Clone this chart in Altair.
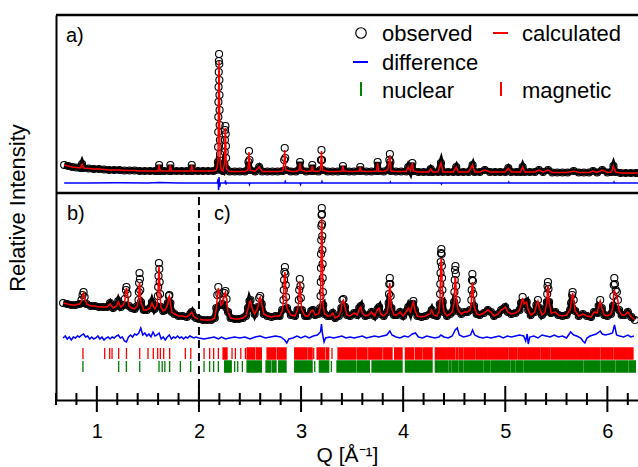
import altair as alt
import pandas as pd

FONT = "Liberation Sans"

# ---------------- data ----------------
# panel a): (Q, observed, calculated), relative intensity
top_profile = [
    (0.68, 27, 27), (0.72, 26, 26), (0.76, 25, 25), (0.80, 24.5, 24.5), (0.84, 24, 24),
    (0.855, 28, 28), (0.87, 24, 24), (0.92, 23.5, 23.5), (0.97, 23, 23), (1.02, 23, 23),
    (1.07, 22.5, 22.5), (1.12, 22, 22), (1.17, 22, 22), (1.22, 22, 22), (1.27, 21.5, 21.5),
    (1.32, 21.5, 21.5), (1.37, 21.5, 21.5), (1.42, 21, 21), (1.47, 21, 21), (1.52, 21, 21),
    (1.57, 21, 21), (1.60, 21, 21), (1.61, 27, 27), (1.62, 21, 21), (1.66, 21, 21),
    (1.71, 21, 21), (1.72, 27, 27), (1.73, 21, 21), (1.78, 21, 21), (1.83, 21, 21),
    (1.88, 21, 21), (1.92, 21, 21), (1.93, 27, 27), (1.94, 21, 21), (1.99, 21, 21),
    (2.04, 21, 21), (2.09, 21, 21), (2.14, 21, 21), (2.17, 22, 22),
    (2.186, 30, 29), (2.188, 45, 43), (2.189, 60, 57), (2.190, 75, 71), (2.191, 90, 86),
    (2.192, 105, 100), (2.194, 120, 114), (2.195, 131, 125), (2.197, 138, 131),
    (2.199, 128, 122), (2.200, 112, 107), (2.201, 97, 93), (2.202, 82, 79), (2.203, 67, 64),
    (2.205, 52, 50), (2.207, 38, 37), (2.211, 26, 26), (2.22, 22, 22), (2.235, 21, 21),
    (2.249, 28, 28), (2.252, 40, 39), (2.254, 52, 50), (2.256, 62, 60), (2.259, 66, 64),
    (2.262, 58, 56), (2.264, 46, 45), (2.266, 34, 33), (2.27, 23, 23),
    (2.30, 20.5, 20.5), (2.35, 20.5, 20.5), (2.40, 20.5, 20.5), (2.45, 20.5, 20.5),
    (2.48, 22, 22), (2.485, 30, 30), (2.49, 41, 40), (2.495, 32, 32), (2.50, 22, 22),
    (2.55, 20.5, 20.5), (2.59, 25, 25), (2.62, 20.5, 20.5), (2.67, 20.5, 20.5),
    (2.72, 20.5, 20.5), (2.77, 20.5, 20.5), (2.82, 21, 21),
    (2.835, 32, 31), (2.84, 44, 42), (2.845, 34, 33), (2.85, 22, 22),
    (2.90, 20.5, 20.5), (2.95, 20.5, 20.5), (2.98, 22, 22), (2.99, 30, 29), (3.00, 22, 22),
    (3.05, 20.5, 20.5), (3.10, 21, 21), (3.11, 27, 26), (3.12, 21, 21), (3.17, 20.5, 20.5),
    (3.19, 22, 22), (3.195, 32, 32), (3.20, 42, 41), (3.205, 32, 32), (3.21, 22, 22),
    (3.26, 20.5, 20.5), (3.31, 20.5, 20.5), (3.36, 20.5, 20.5), (3.40, 21, 21),
    (3.41, 26, 26), (3.42, 21, 21), (3.47, 20.5, 20.5), (3.52, 20.5, 20.5), (3.57, 21, 21),
    (3.58, 25, 25), (3.59, 21, 21), (3.64, 20.5, 20.5), (3.69, 20.5, 20.5), (3.74, 21, 21),
    (3.75, 30, 29), (3.76, 21, 21), (3.81, 20.5, 20.5), (3.85, 22, 22),
    (3.865, 32, 31), (3.87, 38, 37), (3.875, 30, 30), (3.88, 21, 21),
    (3.93, 20.5, 20.5), (3.98, 20.5, 20.5), (4.03, 20.5, 20.5), (4.05, 25, 25),
    (4.07, 21, 21), (4.09, 29, 29), (4.10, 21, 21), (4.15, 20, 20), (4.20, 20, 20),
    (4.25, 20, 20), (4.27, 23, 23), (4.29, 20, 20), (4.34, 20, 20), (4.37, 29, 29),
    (4.39, 20, 20), (4.44, 20, 20), (4.49, 20, 20), (4.52, 25, 25), (4.54, 20, 20),
    (4.59, 20, 20), (4.64, 20, 20), (4.68, 27, 27), (4.70, 20, 20), (4.75, 20, 20),
    (4.80, 22, 22), (4.85, 20, 20), (4.90, 20, 20), (4.95, 20, 20), (5.00, 20, 20),
    (5.03, 24, 24), (5.06, 20, 20), (5.11, 20, 20), (5.15, 20, 20), (5.17, 25, 25),
    (5.19, 20, 20), (5.24, 20, 20), (5.29, 20, 20), (5.33, 22, 22), (5.37, 20, 20),
    (5.42, 22, 22), (5.46, 19.5, 19.5), (5.51, 19.5, 19.5), (5.56, 19.5, 19.5),
    (5.61, 19.5, 19.5), (5.67, 21, 21), (5.72, 19.5, 19.5), (5.77, 19.5, 19.5),
    (5.82, 19.5, 19.5), (5.86, 21, 21), (5.90, 19.5, 19.5), (5.95, 22, 22),
    (6.00, 19.5, 19.5), (6.04, 20, 20), (6.06, 26, 26), (6.08, 20, 20), (6.13, 19, 19),
    (6.18, 19, 19), (6.23, 19, 19), (6.28, 19, 19), (6.30, 19, 19),
]

# panel a): difference curve (Q, obs - calc)
top_diff = [
    (0.68, 0), (0.90, 0), (1.20, 0.3), (1.50, 0), (1.61, 0.5), (1.80, 0), (2.10, 0),
    (2.18, 0), (2.188, 4), (2.192, -7), (2.197, 6), (2.202, -4), (2.21, 0), (2.255, 0),
    (2.26, 2.5), (2.265, -1.5), (2.27, 0), (2.49, 0), (2.495, -1.5), (2.50, 0), (2.84, 0),
    (2.845, 1.5), (2.85, 0), (2.99, 0), (2.995, -1.5), (3.00, 0), (3.20, 0), (3.205, 1.5),
    (3.21, 0), (3.87, 0), (3.875, 1), (3.88, 0), (4.37, 0), (4.375, -1), (4.38, 0),
    (5.03, 0), (5.035, 1), (5.04, 0), (6.06, 0), (6.065, 1), (6.07, 0), (6.30, 0),
]

# panels b) and c): (Q, observed, calculated)
bottom_profile = [
    (0.67, 97, 97), (0.71, 96, 96), (0.75, 95, 95), (0.79, 95, 95), (0.83, 96, 96),
    (0.85, 100, 99), (0.86, 105, 104), (0.87, 108, 107), (0.88, 103, 102), (0.90, 96, 96),
    (0.94, 94, 94), (0.98, 94, 94), (1.02, 93, 93), (1.06, 93, 93), (1.10, 93, 93),
    (1.13, 97, 96), (1.16, 92, 92), (1.19, 94, 94), (1.21, 99, 98), (1.235, 93, 93),
    (1.26, 95, 95), (1.275, 101, 100), (1.285, 110, 109), (1.29, 113, 112),
    (1.30, 106, 106), (1.315, 94, 94), (1.34, 92, 92), (1.37, 91, 91), (1.395, 94, 94),
    (1.408, 100, 100), (1.411, 108, 106), (1.414, 117, 113), (1.418, 127, 118),
    (1.422, 121, 114), (1.425, 110, 107), (1.432, 98, 98), (1.46, 90, 90), (1.49, 90, 90),
    (1.52, 92, 92), (1.54, 98, 97), (1.565, 91, 91), (1.585, 94, 94),
    (1.598, 104, 103), (1.601, 113, 112), (1.604, 124, 123), (1.608, 137, 134),
    (1.612, 131, 129), (1.615, 118, 117), (1.619, 106, 105), (1.628, 93, 93),
    (1.65, 89, 89), (1.67, 90, 90), (1.695, 97, 96), (1.705, 104, 103), (1.71, 105, 104),
    (1.72, 97, 97), (1.735, 88, 88), (1.76, 86, 86), (1.80, 84, 84), (1.84, 84, 84),
    (1.88, 83, 83), (1.915, 86, 86), (1.93, 88, 88), (1.945, 84, 84), (1.97, 82, 82),
    (2.00, 81, 81), (2.04, 80, 80), (2.08, 80, 80), (2.12, 80, 80), (2.155, 82, 82),
    (2.17, 92, 91), (2.18, 105, 104), (2.19, 113, 112), (2.20, 106, 106),
    (2.215, 95, 95), (2.23, 96, 96), (2.24, 100, 100), (2.25, 107, 106), (2.26, 109, 108),
    (2.27, 101, 101), (2.285, 88, 88), (2.31, 82, 82), (2.35, 81, 81), (2.39, 81, 81),
    (2.43, 82, 82), (2.46, 84, 84), (2.48, 92, 91), (2.495, 99, 98), (2.505, 100, 99),
    (2.52, 92, 92), (2.545, 86, 86), (2.575, 93, 92), (2.59, 102, 101), (2.60, 104, 103),
    (2.615, 96, 96), (2.635, 86, 86), (2.67, 84, 84), (2.71, 83, 83), (2.75, 84, 84),
    (2.79, 84, 84), (2.815, 90, 89), (2.828, 100, 99), (2.831, 110, 108),
    (2.834, 120, 117), (2.837, 128, 124), (2.842, 133, 128), (2.847, 126, 122),
    (2.850, 115, 113), (2.853, 103, 102), (2.862, 92, 92), (2.90, 85, 85), (2.94, 84, 84),
    (2.965, 90, 90), (2.978, 100, 99), (2.982, 110, 109), (2.988, 121, 119),
    (2.994, 114, 112), (2.998, 102, 101), (3.008, 90, 90), (3.04, 84, 84), (3.07, 84, 84),
    (3.10, 89, 89), (3.115, 90, 90), (3.14, 85, 85), (3.17, 86, 86),
    (3.188, 92, 92), (3.191, 104, 103), (3.193, 118, 116), (3.195, 132, 129),
    (3.196, 146, 142), (3.198, 160, 155), (3.199, 174, 168), (3.201, 185, 177),
    (3.203, 192, 182), (3.205, 186, 177), (3.206, 176, 169), (3.208, 164, 157),
    (3.209, 150, 145), (3.211, 136, 132), (3.212, 122, 119), (3.214, 108, 106),
    (3.217, 95, 95), (3.23, 86, 86), (3.26, 84, 84), (3.285, 84, 84), (3.31, 87, 87),
    (3.335, 82, 82), (3.37, 84, 84), (3.395, 92, 91), (3.405, 100, 99), (3.415, 101, 100),
    (3.43, 93, 93), (3.45, 85, 85), (3.48, 84, 84), (3.52, 87, 87), (3.55, 85, 85),
    (3.57, 92, 91), (3.585, 94, 93), (3.60, 87, 87), (3.63, 84, 84), (3.66, 85, 85),
    (3.69, 88, 88), (3.72, 84, 84), (3.75, 91, 91), (3.765, 93, 92), (3.78, 86, 86),
    (3.81, 84, 84), (3.845, 88, 88), (3.858, 97, 96), (3.861, 106, 104),
    (3.864, 116, 112), (3.869, 122, 117), (3.874, 116, 112), (3.877, 104, 103),
    (3.885, 92, 92), (3.91, 85, 85), (3.94, 85, 85), (3.97, 88, 88), (4.00, 84, 84),
    (4.035, 89, 89), (4.05, 93, 92), (4.07, 88, 88), (4.09, 96, 95), (4.10, 99, 98),
    (4.115, 90, 90), (4.14, 84, 84), (4.18, 83, 83), (4.22, 84, 84), (4.26, 86, 86),
    (4.28, 90, 90), (4.30, 85, 85), (4.33, 84, 84), (4.35, 88, 88),
    (4.359, 96, 96), (4.362, 106, 105), (4.364, 116, 114), (4.366, 127, 124),
    (4.368, 138, 133), (4.371, 147, 140), (4.374, 151, 142), (4.377, 146, 137),
    (4.379, 134, 129), (4.381, 122, 118), (4.384, 110, 108), (4.388, 98, 98),
    (4.40, 88, 88), (4.43, 84, 84), (4.46, 86, 86), (4.48, 88, 88),
    (4.499, 98, 97), (4.502, 108, 105), (4.505, 120, 114), (4.508, 130, 121),
    (4.512, 134, 123), (4.516, 126, 118), (4.519, 114, 110), (4.524, 100, 99),
    (4.54, 89, 89), (4.57, 86, 86), (4.60, 88, 88), (4.63, 88, 88), (4.655, 90, 90),
    (4.668, 100, 99), (4.671, 110, 107), (4.674, 120, 114), (4.678, 126, 118),
    (4.683, 119, 114), (4.687, 106, 104), (4.694, 94, 94), (4.72, 86, 86), (4.75, 85, 85),
    (4.79, 87, 87), (4.83, 90, 90), (4.86, 88, 88), (4.89, 84, 84), (4.93, 86, 86),
    (4.96, 90, 90), (4.98, 91, 91), (5.00, 93, 93), (5.025, 88, 88), (5.06, 86, 86),
    (5.10, 87, 87), (5.14, 90, 90), (5.155, 97, 96), (5.17, 103, 102), (5.185, 96, 96),
    (5.20, 97, 97), (5.21, 98, 98), (5.225, 90, 90), (5.25, 85, 85), (5.29, 88, 88),
    (5.305, 95, 95), (5.32, 100, 99), (5.335, 92, 92), (5.36, 85, 85), (5.39, 88, 88),
    (5.408, 98, 98), (5.411, 106, 105), (5.414, 114, 112), (5.418, 118, 115),
    (5.423, 111, 109), (5.429, 98, 98), (5.45, 87, 87), (5.49, 88, 88), (5.52, 85, 85),
    (5.56, 84, 84), (5.60, 85, 85), (5.635, 90, 90), (5.645, 97, 97), (5.655, 105, 104),
    (5.66, 108, 107), (5.67, 100, 100), (5.685, 89, 89), (5.72, 84, 84), (5.76, 86, 86),
    (5.80, 84, 84), (5.84, 83, 83), (5.87, 88, 88), (5.90, 87, 87), (5.915, 94, 94),
    (5.93, 100, 99), (5.945, 92, 92), (5.97, 85, 85), (6.00, 84, 84), (6.035, 86, 86),
    (6.055, 94, 93), (6.059, 104, 101), (6.063, 115, 107), (6.068, 122, 110),
    (6.074, 116, 108), (6.082, 110, 106), (6.093, 108, 104), (6.103, 100, 99),
    (6.115, 90, 90), (6.14, 85, 85), (6.17, 85, 85), (6.20, 88, 88), (6.235, 83, 83),
    (6.27, 80, 80),
]

# panels b) and c): difference curve (Q, obs - calc)
bottom_diff = [
    (0.67, 0), (0.69, 2), (0.71, -1), (0.73, 1), (0.75, -2), (0.77, 1), (0.79, 0),
    (0.81, 2), (0.83, 1), (0.85, 3), (0.87, 4), (0.89, 1), (0.91, 2), (0.93, -1),
    (0.95, 1), (0.97, -1), (0.99, 0), (1.01, 2), (1.03, -1), (1.05, 1), (1.07, -2),
    (1.09, 0), (1.11, 1), (1.13, -1), (1.15, 1), (1.17, 0), (1.19, 2), (1.21, 3),
    (1.23, 0), (1.25, 1), (1.27, -3), (1.29, -4), (1.31, 1), (1.33, 3), (1.35, 1),
    (1.37, 4), (1.39, 3), (1.41, 5), (1.43, 10), (1.45, 3), (1.47, 5), (1.49, 2),
    (1.51, 4), (1.53, 1), (1.55, 6), (1.57, 2), (1.59, 3), (1.61, 5), (1.63, -1),
    (1.65, 1), (1.67, -2), (1.69, 1), (1.71, 3), (1.73, -1), (1.75, 1), (1.77, 0),
    (1.79, 2), (1.81, 0), (1.83, 1), (1.85, -1), (1.87, 1), (1.89, 0), (1.91, 2),
    (1.93, 1), (1.95, 0), (1.97, 1), (2.00, 0), (2.05, -1), (2.10, 0), (2.15, 1),
    (2.19, -1), (2.22, 1), (2.26, -1), (2.30, 0), (2.35, 1), (2.40, 0), (2.45, 1),
    (2.50, -1), (2.55, 1), (2.60, 2), (2.65, 0), (2.70, 1), (2.75, 2), (2.80, 1),
    (2.84, -2), (2.86, -5), (2.88, -1), (2.92, 0), (2.96, 2), (3.00, 0), (3.04, 2),
    (3.08, 0), (3.12, 2), (3.16, 3), (3.19, 6), (3.20, 14), (3.21, 4), (3.225, -4),
    (3.24, 0), (3.28, 1), (3.32, 0), (3.36, 1), (3.40, 2), (3.44, 0), (3.48, 1),
    (3.52, 0), (3.56, 1), (3.60, 2), (3.64, 0), (3.68, 1), (3.72, 2), (3.76, 1),
    (3.80, 2), (3.84, 3), (3.87, 7), (3.89, 3), (3.93, 1), (3.97, 0), (4.01, 2),
    (4.05, 1), (4.09, 4), (4.12, 5), (4.15, 1), (4.19, 0), (4.23, 2), (4.27, 1),
    (4.31, 0), (4.35, 1), (4.37, 3), (4.40, 1), (4.44, 0), (4.48, 2), (4.51, 8),
    (4.53, 10), (4.55, 3), (4.59, 1), (4.63, 2), (4.66, 3), (4.68, 8), (4.70, 3),
    (4.74, 1), (4.78, 0), (4.82, 1), (4.86, 0), (4.90, 1), (4.94, 2), (4.98, 0),
    (5.02, 2), (5.06, 1), (5.10, 2), (5.14, 3), (5.18, 2), (5.20, -3), (5.215, 4),
    (5.225, -6), (5.24, 1), (5.28, 2), (5.32, 0), (5.36, 3), (5.40, 2), (5.44, 1),
    (5.48, 3), (5.52, 1), (5.56, 2), (5.60, 0), (5.64, 6), (5.67, 3), (5.70, 2),
    (5.74, 0), (5.76, -3), (5.78, -5), (5.80, 0), (5.83, 2), (5.86, 3), (5.89, 4),
    (5.93, 7), (5.95, 4), (5.98, 3), (6.02, 4), (6.05, 5), (6.07, 13), (6.09, 3),
    (6.12, 2), (6.16, 1), (6.20, 3), (6.23, 1), (6.26, 2),
]

# reflection positions: (Q start, Q end); a single reflection has start == end
magnetic_refl = [
    (0.864, 0.864), (1.077, 1.077), (1.126, 1.126), (1.149, 1.149), (1.214, 1.214),
    (1.290, 1.290), (1.420, 1.420), (1.501, 1.501), (1.553, 1.553), (1.596, 1.596),
    (1.622, 1.622), (1.655, 1.655), (1.713, 1.713), (1.867, 1.867), (1.920, 1.920),
    (2.050, 2.050), (2.105, 2.105), (2.144, 2.144), (2.190, 2.190), (2.236, 2.275),
    (2.324, 2.324), (2.357, 2.357), (2.410, 2.410), (2.455, 2.455),
    (2.471, 2.546), (2.562, 2.611), (2.667, 2.748), (2.765, 2.853), (2.938, 3.059),
    (3.075, 3.108), (3.124, 3.124), (3.157, 3.232), (3.248, 3.271), (3.303, 3.303),
    (3.362, 3.532), (3.548, 3.646), (3.663, 3.793), (3.810, 3.891), (3.917, 3.989),
    (4.022, 4.103), (4.120, 4.185), (4.201, 4.283), (4.315, 4.423), (4.436, 4.504),
    (4.518, 4.537), (4.550, 4.586), (4.599, 4.700), (4.713, 4.815), (4.828, 5.027),
    (5.040, 5.115), (5.128, 5.216), (5.229, 5.337), (5.350, 5.435), (5.448, 5.598),
    (5.611, 5.696), (5.709, 5.843), (5.856, 5.925), (5.938, 6.055), (6.068, 6.186),
    (6.199, 6.251),
]
nuclear_refl = [
    (0.864, 0.864), (1.214, 1.214), (1.289, 1.289), (1.420, 1.420), (1.609, 1.609),
    (1.640, 1.640), (1.666, 1.666), (1.713, 1.713), (1.818, 1.818), (1.919, 1.919),
    (2.050, 2.050), (2.105, 2.105), (2.144, 2.144), (2.190, 2.190), (2.252, 2.316),
    (2.350, 2.350), (2.380, 2.380), (2.425, 2.425), (2.471, 2.611), (2.657, 2.699),
    (2.716, 2.755), (2.781, 2.853), (2.938, 3.108), (3.134, 3.134), (3.179, 3.271),
    (3.297, 3.297), (3.352, 3.532), (3.548, 3.669), (3.695, 3.989), (4.022, 4.283),
    (4.315, 4.439), (4.452, 4.465), (4.478, 4.537), (4.550, 4.586), (4.599, 4.619),
    (4.632, 4.782), (4.795, 4.847), (4.860, 5.043), (5.056, 5.092), (5.105, 5.174),
    (5.187, 5.598), (5.611, 5.761), (5.774, 5.794), (5.807, 5.925), (5.938, 6.072),
    (6.085, 6.137), (6.150, 6.202), (6.215, 6.274),
]

major_ticks = [1, 2, 3, 4, 5, 6]
minor_ticks = [0.6, 0.8, 1.2, 1.4, 1.6, 1.8, 2.2, 2.4, 2.6, 2.8, 3.2, 3.4, 3.6, 3.8,
               4.2, 4.4, 4.6, 4.8, 5.2, 5.4, 5.6, 5.8, 6.2]

# ---------------- layout constants ----------------
TOP_OFFSET = 208        # vertical offset of panel a) inside the common frame
TOP_DIFF_BASE = 9       # difference curve baseline (panel a units)
BOTTOM_DIFF_BASE = 62   # difference curve baseline (panel b/c units)
SEPARATOR = 207
FRAME_TOP = 385
# above these levels the observed trace is shown by its circles only
BAND_LIMIT = "(datum.panel == 'a' && datum.obs <= 30) || (datum.panel == 'bc' && datum.obs <= 99)"

W, H = 582, 385
XS = alt.Scale(domain=[0.6, 6.3], nice=False, zero=False)
YS = alt.Scale(domain=[0, FRAME_TOP], nice=False, zero=False)

XA = alt.Axis(values=major_ticks, format="d", ticks=False, tickSize=0, grid=False,
              domain=True, domainColor="black", domainWidth=2,
              labelFont=FONT, labelFontSize=20, labelColor="black", labelPadding=21,
              title="Q [Å⁻¹]", titleFont=FONT, titleFontSize=21, titleFontWeight="normal",
              titleColor="black", titlePadding=3)
YA = alt.Axis(labels=False, ticks=False, tickSize=0, grid=False, domain=True,
              domainColor="black", domainWidth=2,
              title="Relative Intensity", titleFont=FONT, titleFontSize=22,
              titleFontWeight="normal", titleColor="black", titlePadding=27)


def X(field="q"):
    return alt.X(f"{field}:Q", scale=XS, axis=XA)


def Y(field="y"):
    return alt.Y(f"{field}:Q", scale=YS, axis=YA)


# ---------------- tables ----------------
top_df = pd.DataFrame(top_profile, columns=["q", "obs", "calc"])
top_df["panel"] = "a"
top_df["y"] = top_df["obs"] + TOP_OFFSET
top_df["yc"] = top_df["calc"] + TOP_OFFSET
bot_df = pd.DataFrame(bottom_profile, columns=["q", "obs", "calc"])
bot_df["panel"] = "bc"
bot_df["y"] = bot_df["obs"]
bot_df["yc"] = bot_df["calc"]
prof = pd.concat([top_df, bot_df], ignore_index=True)

td = pd.DataFrame(top_diff, columns=["q", "d"])
td["panel"] = "a"
td["y"] = td["d"] + TOP_DIFF_BASE + TOP_OFFSET
bd = pd.DataFrame(bottom_diff, columns=["q", "d"])
bd["panel"] = "bc"
bd["y"] = bd["d"] + BOTTOM_DIFF_BASE
diff = pd.concat([td, bd], ignore_index=True)

mag = pd.DataFrame(magnetic_refl, columns=["q", "q2"])
mag["y"], mag["y2"] = 52, 41
nuc = pd.DataFrame(nuclear_refl, columns=["q", "q2"])
nuc["y"], nuc["y2"] = 39, 28

maj = pd.DataFrame({"q": major_ticks, "y": 14, "y2": -12})
mnr = pd.DataFrame({"q": minor_ticks, "y": 7, "y2": -5})

frame_lines = pd.DataFrame({"q": [0.6, 0.6], "q2": [6.3, 6.3],
                            "y": [FRAME_TOP, SEPARATOR]})
dash_df = pd.DataFrame({"q": [2.0], "y": [203], "y2": [0]})

# ---------------- layers ----------------
band = alt.Chart(prof).transform_filter(BAND_LIMIT).mark_line(
    color="black", strokeWidth=6).encode(x=X(), y=Y(), detail="panel:N")
circles = alt.Chart(prof).mark_point(shape="circle", filled=False, size=50,
                                     color="black", strokeWidth=1.1, opacity=1).encode(
    x=X(), y=Y())
calc = alt.Chart(prof).mark_line(color="#ff0000", strokeWidth=1.5).encode(
    x=X(), y=Y("yc"), detail="panel:N")
diff_line = alt.Chart(diff).mark_line(color="#0000ff", strokeWidth=1.5).encode(
    x=X(), y=Y(), detail="panel:N")

mag_marks = alt.Chart(mag).mark_rect(color="#ff0000", stroke="#ff0000", strokeWidth=1.3).encode(
    x=X(), x2="q2:Q", y=Y(), y2="y2:Q")
nuc_marks = alt.Chart(nuc).mark_rect(color="#008000", stroke="#008000", strokeWidth=1.3).encode(
    x=X(), x2="q2:Q", y=Y(), y2="y2:Q")

maj_ticks = alt.Chart(maj).mark_rule(color="black", strokeWidth=2).encode(
    x=X(), y=Y(), y2="y2:Q")
min_ticks = alt.Chart(mnr).mark_rule(color="black", strokeWidth=2).encode(
    x=X(), y=Y(), y2="y2:Q")

frame = alt.Chart(frame_lines).mark_rule(color="black", strokeWidth=2.5).encode(
    x=X(), x2="q2:Q", y=Y())
dashed = alt.Chart(dash_df).mark_rule(color="black", strokeWidth=2,
                                      strokeDash=[8, 5]).encode(
    x=X(), y=Y(), y2="y2:Q")

one = pd.DataFrame({"k": [0]})


def label(text, x, y, size=22):
    return alt.Chart(one).mark_text(text=text, align="left", baseline="alphabetic",
                                    font=FONT, fontSize=size, color="black").encode(
        x=alt.value(x), y=alt.value(y))


panel_labels = [label("a)", 10, 27, 20), label("b)", 11, 205, 20), label("c)", 158, 205, 20)]

legend = [
    alt.Chart(one).mark_point(shape="circle", filled=False, size=110, color="black",
                              strokeWidth=1.2, opacity=1).encode(
        x=alt.value(305), y=alt.value(18)),
    alt.Chart(one).mark_rule(color="#ff0000", strokeWidth=2).encode(
        x=alt.value(437), x2=alt.value(452), y=alt.value(18)),
    alt.Chart(one).mark_rule(color="#0000ff", strokeWidth=2).encode(
        x=alt.value(297), x2=alt.value(312), y=alt.value(47)),
    alt.Chart(one).mark_rule(color="#008000", strokeWidth=2).encode(
        x=alt.value(305), y=alt.value(67), y2=alt.value(81)),
    alt.Chart(one).mark_rule(color="#ff0000", strokeWidth=2).encode(
        x=alt.value(445), y=alt.value(67), y2=alt.value(81)),
    label("observed", 326, 26),
    label("calculated", 466, 26),
    label("difference", 326, 55),
    label("nuclear", 326, 83),
    label("magnetic", 466, 83),
]

chart = alt.layer(
    band, circles, calc, diff_line, mag_marks, nuc_marks, maj_ticks, min_ticks,
    frame, dashed, *panel_labels, *legend
).properties(
    width=W, height=H,
    autosize=alt.AutoSizeParams(type="none"),
    padding={"left": 56, "top": 15, "right": 0, "bottom": 67},
    background="white",
).configure_view(stroke=None)

chart.save("out.html", embed_options={"renderer": "svg", "actions": False})
